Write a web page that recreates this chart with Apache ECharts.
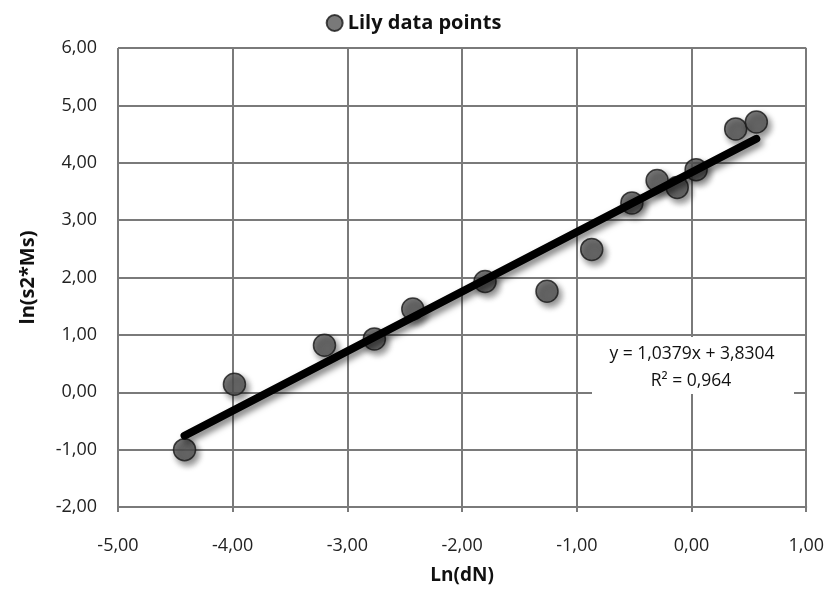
<!DOCTYPE html>
<html><head><meta charset="utf-8">
<script src="https://cdn.jsdelivr.net/npm/echarts@6/dist/echarts.min.js"></script>
<style>html,body{margin:0;padding:0;background:#fff}#c{width:827px;height:590px}</style>
</head><body><div id="c"></div>
<script>
const lnDN   = [-4.42, -3.985, -3.20, -2.765, -2.43, -1.80, -1.26, -0.87, -0.52, -0.30, -0.125, 0.04, 0.385, 0.565];
const lnS2Ms = [-1.00, 0.14, 0.82, 0.93, 1.45, 1.93, 1.76, 2.49, 3.30, 3.69, 3.57, 3.88, 4.59, 4.71];
const trendX = [-4.42, 0.565];
const trendY = [-0.757, 4.417];
const seriesName = 'Lily data points';
const eqLines = ['y = 1,0379x + 3,8304', 'R² = 0,964'];

const fmt = v => v.toFixed(2).replace('.', ',');
const chart = echarts.init(document.getElementById('c'));
const FONT = '"Open Sans", "DejaVu Sans", sans-serif';
chart.setOption({
  animation: false,
  textStyle: {fontFamily: FONT},
  legend: {
    top: 8, left: 'center', data: [{name: seriesName, icon: 'circle'}],
    itemWidth: 16, itemHeight: 16, itemGap: 5,
    textStyle: {fontFamily: FONT, fontWeight: 'bold', fontSize: 20, color: '#111'}
  },
  grid: {left: 118, right: 20, top: 48, bottom: 82},
  xAxis: {
    type: 'value', min: -5, max: 1, interval: 1,
    name: 'Ln(dN)', nameLocation: 'middle', nameGap: 59,
    nameTextStyle: {fontFamily: FONT, fontWeight: 'bold', fontSize: 19, color: '#111'},
    axisLine: {show: true, onZero: false, lineStyle: {color: '#7a7a7a', width: 2}},
    axisTick: {show: true, length: 5, lineStyle: {color: '#7a7a7a', width: 2}},
    axisLabel: {formatter: fmt, fontSize: 18, color: '#222', margin: 30, fontFamily: FONT},
    splitLine: {show: true, lineStyle: {color: '#7a7a7a', width: 2}}
  },
  yAxis: {
    type: 'value', min: -2, max: 6, interval: 1,
    name: 'ln(s2*Ms)', nameLocation: 'middle', nameGap: 80, nameRotate: 90,
    nameTextStyle: {fontFamily: FONT, fontWeight: 'bold', fontSize: 20, color: '#111'},
    axisLine: {show: true, lineStyle: {color: '#7a7a7a', width: 2}},
    axisTick: {show: true, length: 5, lineStyle: {color: '#7a7a7a', width: 2}},
    axisLabel: {formatter: fmt, fontSize: 18, color: '#222', margin: 21, fontFamily: FONT},
    splitLine: {show: true, lineStyle: {color: '#7a7a7a', width: 2}}
  },
  series: [
    {
      name: seriesName, type: 'scatter', symbolSize: 22, z: 3,
      data: lnDN.map((x, i) => [x, lnS2Ms[i]]),
      itemStyle: {color: '#585858', borderColor: '#1a1a1a', borderWidth: 1.5,
        shadowColor: 'rgba(0,0,0,0.55)', shadowBlur: 6, shadowOffsetX: 3, shadowOffsetY: 4}
    },
    {
      name: 'trend', type: 'line', symbol: 'none', z: 4,
      data: trendX.map((x, i) => [x, trendY[i]]),
      lineStyle: {color: '#000', width: 8, cap: 'round',
        shadowColor: 'rgba(0,0,0,0.5)', shadowBlur: 6, shadowOffsetX: 3, shadowOffsetY: 4}
    }
  ],
  graphic: [
    {type: 'rect', x: 592, y: 337, z: 10, shape: {width: 202, height: 57}, style: {fill: '#fff'}},
    {type: 'text', z: 11, x: 692, y: 354, style: {text: eqLines[0], fontSize: 17.5, fontFamily: FONT, fill: '#111', align: 'center', verticalAlign: 'middle'}},
    {type: 'text', z: 11, x: 691, y: 381, style: {text: eqLines[1], fontSize: 17.5, fontFamily: FONT, fill: '#111', align: 'center', verticalAlign: 'middle'}}
  ]
});
</script></body></html>
